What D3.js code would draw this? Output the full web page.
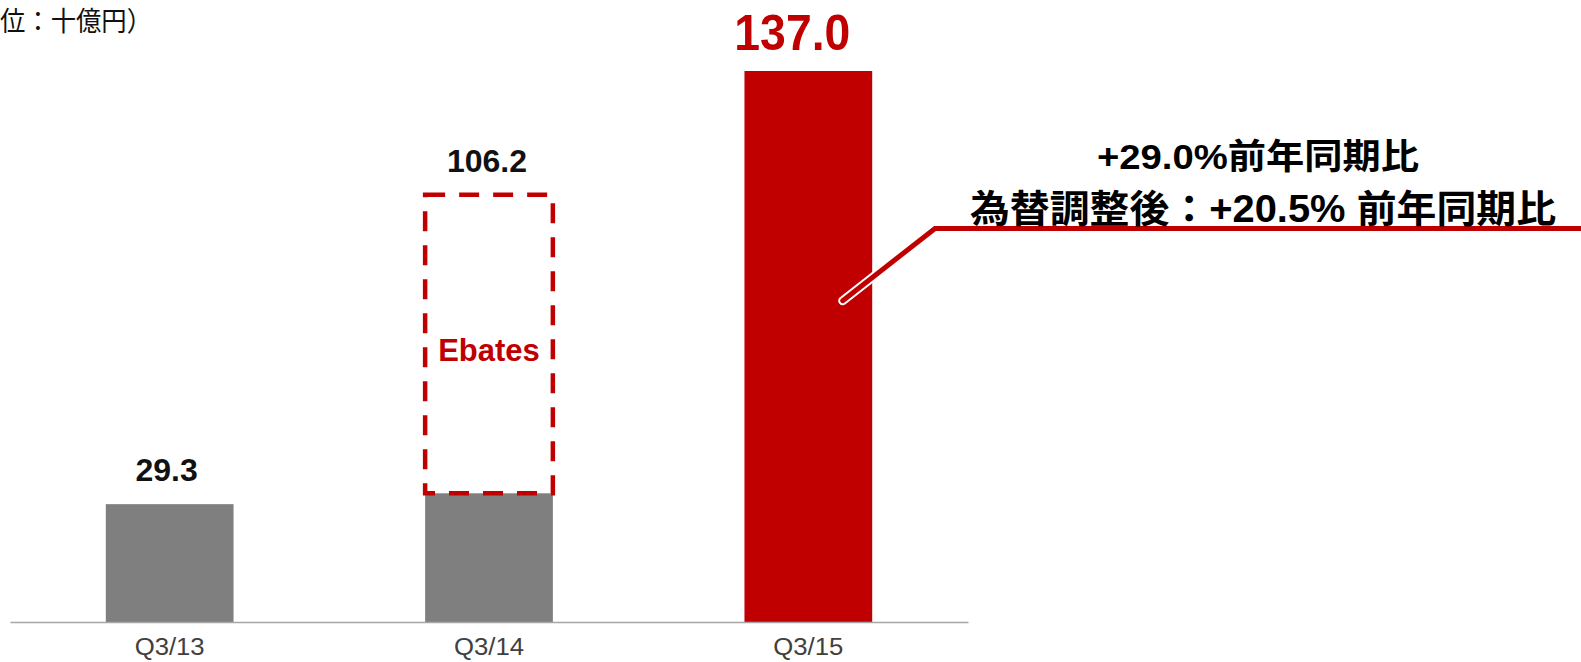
<!DOCTYPE html>
<html lang="ja">
<head>
<meta charset="utf-8">
<script src="https://cdn.jsdelivr.net/npm/d3@7"></script>
<style>
  html, body { margin: 0; padding: 0; background: #ffffff; }
  svg { display: block; }
</style>
</head>
<body>
<svg id="chart" width="1581" height="662"></svg>
<script>
// Quarterly revenue (十億円)
const categories = ["Q3/13", "Q3/14", "Q3/15"];
const baseValues = [29.3, 32.0, 137.0];      // solid bar portion
const totalValues = [29.3, 106.2, 137.0];    // labelled totals
const barColors = ["#7f7f7f", "#7f7f7f", "#c00000"];
const labelColors = ["#111111", "#111111", "#c00000"];
const ebatesIndex = 1;                         // dashed segment on top of Q3/14
const ebatesLabel = "Ebates";
const unitLabel = "位：十億円）";
const growthLines = ["+29.0%前年同期比", "為替調整後：+20.5% 前年同期比"];

const RED = "#c00000";
const svg = d3.select("#chart");

const x = d3.scaleBand()
  .domain(categories)
  .range([10, 968])
  .paddingInner(0.6)
  .paddingOuter(0.3);

const y = d3.scaleLinear()
  .domain([0, 137])
  .range([622, 71]);

// unit label
svg.append("text")
  .attr("x", 0)
  .attr("y", 31)
  .attr("font-family", "'Noto Sans CJK JP', sans-serif")
  .attr("font-size", 27)
  .attr("textLength", 152)
  .attr("lengthAdjust", "spacingAndGlyphs")
  .attr("fill", "#111")
  .text(unitLabel);

// bars
svg.append("g").selectAll("rect")
  .data(categories)
  .join("rect")
  .attr("x", d => x(d))
  .attr("width", x.bandwidth())
  .attr("y", (d, i) => y(baseValues[i]))
  .attr("height", (d, i) => y(0) - y(baseValues[i]))
  .attr("fill", (d, i) => barColors[i]);

// dashed outline for the acquired business
const eCat = categories[ebatesIndex];
svg.append("rect")
  .attr("x", x(eCat))
  .attr("width", x.bandwidth())
  .attr("y", y(totalValues[ebatesIndex]))
  .attr("height", y(baseValues[ebatesIndex]) - y(totalValues[ebatesIndex]))
  .attr("fill", "none")
  .attr("stroke", RED)
  .attr("stroke-width", 4.5)
  .attr("stroke-dasharray", "20,14");

svg.append("text")
  .attr("x", x(eCat) + x.bandwidth() / 2)
  .attr("y", 361)
  .attr("text-anchor", "middle")
  .attr("font-family", "'Liberation Sans', Arial, sans-serif")
  .attr("font-weight", "bold")
  .attr("font-size", 31)
  .attr("fill", RED)
  .text(ebatesLabel);

// axis
const axis = svg.append("g")
  .attr("transform", `translate(0,${y(0)})`)
  .call(d3.axisBottom(x).tickSize(0).tickSizeOuter(0).tickPadding(17));
axis.select(".domain").attr("stroke", "#a6a6a6").attr("stroke-width", 1.5);
axis.selectAll("text")
  .attr("font-family", "'Liberation Sans', Arial, sans-serif")
  .attr("font-size", 23)
  .attr("textLength", 70)
  .attr("lengthAdjust", "spacingAndGlyphs")
  .attr("fill", "#404040");

// value labels
const labelShift = [-3, -2, -16];
svg.append("g").selectAll("text")
  .data(categories)
  .join("text")
  .attr("x", (d, i) => x(d) + x.bandwidth() / 2 + labelShift[i])
  .attr("y", (d, i) => y(totalValues[i]) - (i === 2 ? 21 : 23))
  .attr("text-anchor", "middle")
  .attr("font-family", "'Liberation Sans', Arial, sans-serif")
  .attr("font-weight", "bold")
  .attr("font-size", (d, i) => i === 2 ? 50 : 32)
  .attr("fill", (d, i) => labelColors[i])
  .each(function (d, i) {
    if (i === 2) d3.select(this).attr("textLength", 116).attr("lengthAdjust", "spacingAndGlyphs");
  })
  .text((d, i) => totalValues[i].toFixed(1));

// leader line from the Q3/15 bar to the growth annotation
const leader = [[842.7, 300.7], [935, 228.5], [1581, 228.5]];
const line = d3.line();
svg.append("path")
  .attr("d", line(leader.slice(0, 2)))
  .attr("fill", "none")
  .attr("stroke", "#ffffff")
  .attr("stroke-width", 9)
  .attr("stroke-linecap", "round");
svg.append("path")
  .attr("d", line(leader))
  .attr("fill", "none")
  .attr("stroke", RED)
  .attr("stroke-width", 5)
  .attr("stroke-linejoin", "miter")
  .attr("stroke-linecap", "round");

// growth annotation
const annot = svg.append("g")
  .attr("font-family", "'Liberation Sans', 'Noto Sans CJK JP', sans-serif")
  .attr("font-weight", "bold")
  .attr("fill", "#000")
  .attr("text-anchor", "middle");
annot.append("text")
  .attr("x", 1258)
  .attr("y", 169)
  .attr("font-size", 35)
  .attr("textLength", 322)
  .attr("lengthAdjust", "spacingAndGlyphs")
  .text(growthLines[0]);
annot.append("text")
  .attr("x", 1263)
  .attr("y", 222)
  .attr("font-size", 38)
  .attr("textLength", 586)
  .attr("lengthAdjust", "spacingAndGlyphs")
  .text(growthLines[1]);
</script>
</body>
</html>
